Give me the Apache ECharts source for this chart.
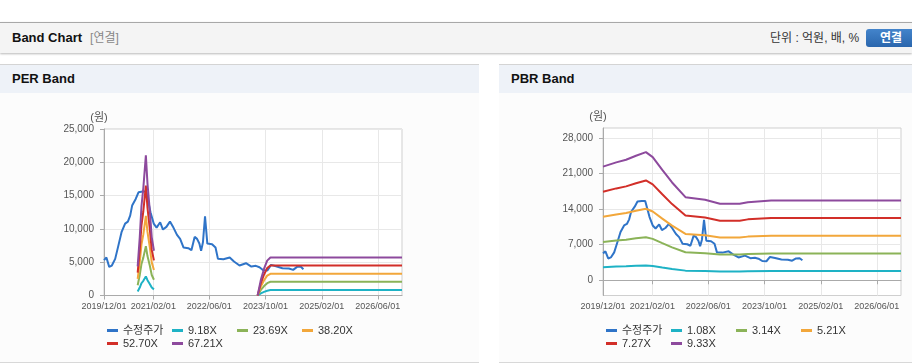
<!DOCTYPE html>
<html>
<head>
<meta charset="utf-8">
<script src="https://cdn.jsdelivr.net/npm/echarts@6/dist/echarts.min.js"></script>
<style>
  body { margin:0; width:912px; height:364px; overflow:hidden; background:#fff; position:relative;
         font-family:"Liberation Sans","Noto Sans CJK KR",sans-serif; }
  .head { position:absolute; left:0; top:22px; width:912px; height:30px; background:#f4f4f4;
          border-top:1px solid #a8a8a8; box-shadow:0 1px 2px rgba(0,0,0,0.28); }
  .head .t { position:absolute; left:12px; top:0; line-height:30px; font-size:13px; font-weight:bold; color:#111; }
  .head .t span { font-weight:normal; color:#888; font-size:12px; margin-left:8px; }
  .head .unit { position:absolute; left:770px; top:0; line-height:30px; font-size:12px; color:#333; }
  .head .btn { position:absolute; left:866px; top:6px; width:54px; height:18px; border-radius:3px;
               background:linear-gradient(#4384cb,#2a66ad); color:#fff; font-weight:bold; font-size:12px;
               line-height:18px; text-align:center; text-indent:-4px; }
  .panel { position:absolute; top:64px; height:297px; background:#fcfcfc;
           border-top:1px solid #d4d4d4; border-bottom:1px solid #d8d8d8; }
  .panel .pt { height:28px; line-height:28px; background:#eef2f8; padding-left:12px;
               font-size:13px; font-weight:bold; color:#111; }
  .panel .c { position:absolute; left:0; top:28px; width:479px; height:269px; }
</style>
</head>
<body>
<div class="head">
  <div class="t">Band Chart<span>[연결]</span></div>
  <div class="unit">단위 : 억원, 배, %</div>
  <div class="btn">연결</div>
</div>
<div class="panel" style="left:0;width:479px"><div class="pt">PER Band</div><div class="c" id="per"></div></div>
<div class="panel" style="left:499px;width:480px"><div class="pt">PBR Band</div><div class="c" id="pbr"></div></div>
<script>
var xTicks = ['2019/12/01', '2021/02/01', '2022/06/01', '2023/10/01', '2025/02/01', '2026/06/01'];
var xStart = '2019-12-01';
var xEnd = '2026-12-28';

// 수정주가
var priceDates = ['2019-12-01','2019-12-22','2020-01-15','2020-02-07','2020-03-07','2020-04-01','2020-05-01',
  '2020-06-01','2020-06-25','2020-07-15','2020-08-01','2020-09-01','2020-09-25','2020-11-01','2020-12-01',
  '2021-01-07','2021-02-04','2021-03-01','2021-04-01','2021-04-25','2021-05-25','2021-06-25','2021-07-25',
  '2021-08-25','2021-09-21','2021-10-21','2021-12-01','2021-12-28','2022-01-25','2022-02-15','2022-03-07',
  '2022-03-22','2022-04-07','2022-04-25','2022-05-04','2022-05-15','2022-06-25','2022-07-25','2022-08-15',
  '2022-10-01','2022-11-25','2023-01-01','2023-02-18','2023-04-15','2023-06-01','2023-07-10','2023-08-10',
  '2023-09-12','2023-10-18','2023-11-18','2024-01-01','2024-02-25','2024-04-21','2024-05-28','2024-07-01',
  '2024-08-01','2024-08-25'];
var priceValues = [5300,5700,4300,4500,5500,7300,9500,
  10800,11100,12000,13500,14500,15500,15600,15600,
  12500,10800,10200,11000,9900,10300,11100,10200,
  9100,8500,7200,7100,6800,8800,8500,7800,
  6700,8000,11900,11700,7800,7700,7200,5500,
  5450,5700,5100,4500,4850,4350,4450,4250,
  3800,3750,4600,4400,4100,4050,3850,4300,
  4350,3950];

// PER band
var perNames = ['9.18X', '23.69X', '38.20X', '52.70X', '67.21X'];
var perDates = ['2020-09-18','2020-10-06','2020-10-21','2020-11-06','2020-11-28','2020-12-12','2021-01-01',
  '2021-01-18','2021-02-06','2021-03-01','2023-07-25','2023-08-22','2023-09-19','2023-10-16','2023-11-13', xEnd];
var per918  = [600,1190,1840,2200,2870,2300,1740,1190,920, null, 0,320,550,720,820,820];
var per2369 = [1540,3080,4740,5690,7410,5920,4500,3080,2370, null, 0,830,1420,1850,2060,2060];
var per3820 = [2480,4970,7640,9170,11960,9550,7260,4970,3820, null, 0,1340,2290,2980,3260,3260];
var per5270 = [3430,6850,10540,12650,16500,13180,10010,6850,5270, null, 0,1840,3160,4110,4520,4520];
var per6721 = [4370,8740,13440,16130,21040,16800,12770,8740,6720, null, 0,2350,4030,5240,5710,5710];

// PBR band
var pbrNames = ['1.08X', '3.14X', '5.21X', '7.27X', '9.33X'];
var pbrDates = ['2019-12-01','2020-03-25','2020-06-18','2020-09-12','2020-12-07','2021-02-04','2021-04-28',
  '2021-07-22','2021-11-15','2022-05-04','2022-09-10','2023-02-28','2023-05-10','2023-11-28', xEnd];
var pbr108 = [2590,2690,2750,2840,2920,2810,2520,2230,1900,1840,1740,1740,1780,1820,1820];
var pbr314 = [7540,7820,7990,8260,8490,8160,7320,6480,5510,5340,5070,5070,5180,5290,5290];
var pbr521 = [12500,12970,13260,13700,14090,13550,12140,10760,9140,8860,8410,8410,8600,8780,8780];
var pbr727 = [17450,18100,18500,19120,19670,18900,16940,15010,12760,12360,11740,11740,12000,12250,12250];
var pbr933 = [22390,23230,23750,24540,25240,24260,21740,19270,16370,15860,15070,15070,15390,15720,15720];
var pbrYTicks = [0, 7000, 14000, 21000, 28000];

var colors = ['#2f74c8', '#1eb2c5', '#8bb358', '#f2a73b', '#d22f29', '#8d4a9d'];

function toTime(s) {
  var p = s.split(/[\/-]/);
  return new Date(+p[0], +p[1] - 1, +p[2]).getTime();
}
function pairs(dates, vals) {
  return dates.map(function (d, i) { return [toTime(d), vals[i]]; });
}
function fmtDate(v) {
  var d = new Date(v);
  var m = d.getMonth() + 1, day = d.getDate();
  return d.getFullYear() + '/' + (m < 10 ? '0' + m : m) + '/' + (day < 10 ? '0' + day : day);
}

var tickTimes = xTicks.map(toTime);
var labelColor = '#555';
var font = '"Liberation Sans","Noto Sans CJK KR",sans-serif';

function buildOption(names, dates, bands, yAxis, gridTop, gridHeight) {
  var series = [{
    name: '수정주가', type: 'line', data: pairs(priceDates, priceValues),
    showSymbol: false, lineStyle: { width: 2 }
  }];
  names.forEach(function (n, i) {
    series.push({ name: n, type: 'line', data: pairs(dates, bands[i]),
      showSymbol: false, connectNulls: false, lineStyle: { width: 2 } });
  });
  return {
    animation: false,
    color: colors,
    textStyle: { fontFamily: font },
    grid: { left: 104, top: gridTop, width: 298, height: gridHeight, show: true,
            borderColor: '#cfcfcf', borderWidth: 1, backgroundColor: '#fff' },
    legend: {
      left: 107, top: 231, width: 265, padding: 0, itemGap: 0, itemWidth: 11, itemHeight: 3, icon: 'rect',
      textStyle: { fontSize: 11, color: '#333', width: 49, lineHeight: 13, fontFamily: font },
      data: ['수정주가'].concat(names)
    },
    xAxis: {
      type: 'value', min: toTime(xStart), max: toTime(xEnd),
      axisLine: { lineStyle: { color: '#aaa' } },
      axisTick: { show: true, length: 4, customValues: tickTimes, lineStyle: { color: '#aaa' } },
      axisLabel: { customValues: tickTimes, formatter: fmtDate, hideOverlap: false,
                   showMinLabel: true, showMaxLabel: true,
                   fontSize: 9, color: labelColor, margin: 7 },
      splitLine: { show: true, lineStyle: { color: '#e8e8e8' } }
    },
    yAxis: yAxis,
    series: series
  };
}

var yBase = {
  type: 'value', name: '(원)', nameGap: 6,
  nameTextStyle: { color: labelColor, fontSize: 11, padding: [0, 10, 0, 0] },
  axisLine: { show: true, lineStyle: { color: '#aaa' } },
  axisTick: { show: true, length: 4, lineStyle: { color: '#aaa' } },
  axisLabel: { fontSize: 10, color: labelColor, margin: 10 },
  splitLine: { show: true, lineStyle: { color: '#e8e8e8' } }
};

var perY = echarts.util.merge({ min: 0, max: 25000, interval: 5000 }, yBase, true);
var pbrY = echarts.util.merge({
  min: -3000, max: 30000,
  axisTick: { customValues: pbrYTicks },
  axisLabel: { customValues: pbrYTicks }
}, yBase, false);

var perChart = echarts.init(document.getElementById('per'));
perChart.setOption(buildOption(perNames, perDates, [per918, per2369, per3820, per5270, per6721], perY, 36, 166.5));

var pbrChart = echarts.init(document.getElementById('pbr'));
pbrChart.setOption(buildOption(pbrNames, pbrDates, [pbr108, pbr314, pbr521, pbr727, pbr933], pbrY, 35, 167.5));

window.onresize = function () { perChart.resize(); pbrChart.resize(); };
</script>
</body>
</html>
